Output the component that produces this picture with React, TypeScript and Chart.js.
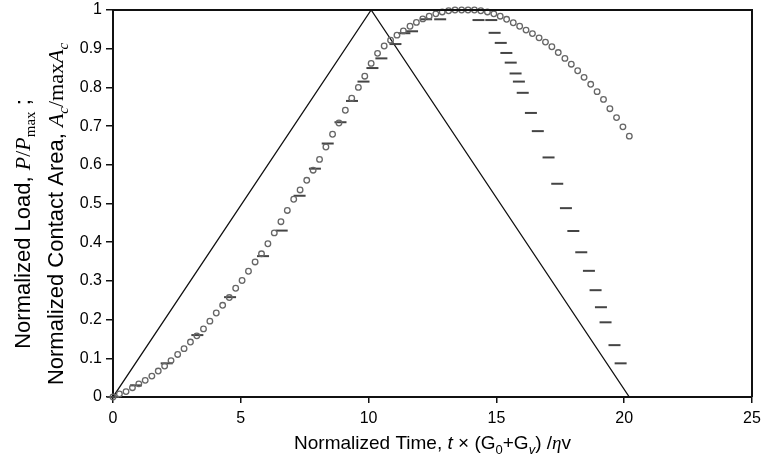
import React, { useEffect, useRef } from "react";
import { Chart, registerables } from "chart.js";

Chart.register(...registerables);

// Triangle load history (normalized load P/Pmax)
const loadTime = [0, 10.1, 20.2];
const loadValue = [0, 1, 0];

// Circles: normalized contact area (series 1)
const circleTime = [
  0, 0.25, 0.51, 0.76, 1.01, 1.26, 1.52, 1.77, 2.02, 2.27, 2.53, 2.78, 3.03, 3.28, 3.54, 3.79,
  4.04, 4.29, 4.55, 4.8, 5.05, 5.3, 5.56, 5.81, 6.06, 6.31, 6.57, 6.82, 7.07, 7.32, 7.58, 7.83,
  8.08, 8.33, 8.59, 8.84, 9.09, 9.34, 9.6, 9.85, 10.1, 10.35, 10.61, 10.86, 11.11, 11.36, 11.62,
  11.87, 12.12, 12.37, 12.63, 12.88, 13.13, 13.38, 13.64, 13.89, 14.14, 14.39, 14.65, 14.9, 15.15,
  15.4, 15.66, 15.91, 16.16, 16.41, 16.67, 16.92, 17.17, 17.42, 17.68, 17.93, 18.18, 18.43, 18.69,
  18.94, 19.19, 19.44, 19.7, 19.95, 20.2,
];
const circleValue = [
  0, 0.008, 0.014, 0.024, 0.034, 0.043, 0.054, 0.067, 0.08, 0.094, 0.11, 0.125, 0.142, 0.158, 0.176,
  0.196, 0.217, 0.237, 0.257, 0.281, 0.301, 0.325, 0.349, 0.37, 0.396, 0.424, 0.453, 0.482, 0.511,
  0.535, 0.56, 0.586, 0.614, 0.646, 0.679, 0.708, 0.741, 0.772, 0.8, 0.829, 0.862, 0.888, 0.907,
  0.922, 0.935, 0.946, 0.958, 0.968, 0.977, 0.984, 0.99, 0.995, 0.998, 1.0, 1.0, 1.0, 1.0, 0.998,
  0.995, 0.99, 0.984, 0.976, 0.967, 0.958, 0.948, 0.939, 0.928, 0.917, 0.905, 0.89, 0.875, 0.86,
  0.843, 0.826, 0.808, 0.789, 0.769, 0.745, 0.722, 0.698, 0.674,
];

// Dashes: normalized contact area (series 2)
const dashTime = [
  0, 0.9, 2.1, 3.3, 4.58, 5.87, 6.6, 7.3, 7.9, 8.4, 8.9, 9.35, 9.8, 10.15, 10.5, 11.05, 11.4, 11.7,
  12.25, 12.8, 14.3, 14.8, 14.93, 15.17, 15.39, 15.56, 15.75, 15.88, 16.03, 16.35, 16.62, 17.04,
  17.38, 17.72, 18.01, 18.32, 18.62, 18.88, 19.09, 19.27, 19.62, 19.86,
];
const dashValue = [
  0, 0.03, 0.087, 0.16, 0.258, 0.364, 0.43, 0.52, 0.59, 0.655, 0.71, 0.765, 0.815, 0.85, 0.875,
  0.912, 0.94, 0.945, 0.976, 0.976, 0.974, 0.974, 0.941, 0.915, 0.889, 0.864, 0.836, 0.815, 0.786,
  0.734, 0.687, 0.619, 0.551, 0.488, 0.429, 0.374, 0.326, 0.276, 0.232, 0.193, 0.134, 0.087,
];

const xTicks = [0, 5, 10, 15, 20, 25];
const yTicks = [0, 0.1, 0.2, 0.3, 0.4, 0.5, 0.6, 0.7, 0.8, 0.9, 1];

const SANS = '"Liberation Sans", Arial, sans-serif';
const SERIF = '"Liberation Serif", "Times New Roman", serif';

type Seg = { t: string; font: string; dy?: number };

const xTitle: Seg[] = [
  { t: "Normalized Time, ", font: `19px ${SANS}` },
  { t: "t", font: `italic 19px ${SANS}` },
  { t: " \u00d7 (G", font: `19px ${SANS}` },
  { t: "0", font: `13px ${SANS}`, dy: 5 },
  { t: "+G", font: `19px ${SANS}` },
  { t: "v", font: `italic 13px ${SANS}`, dy: 5 },
  { t: ") /", font: `19px ${SANS}` },
  { t: "\u03b7", font: `italic 19px ${SERIF}` },
  { t: "v", font: `19px ${SANS}` },
];

const yTitle1: Seg[] = [
  { t: "Normalized Load, ", font: `22px ${SANS}` },
  { t: "P", font: `italic 22px ${SERIF}` },
  { t: "/", font: `22px ${SERIF}` },
  { t: "P", font: `italic 22px ${SERIF}` },
  { t: "max", font: `15px ${SERIF}`, dy: 5 },
  { t: " ;", font: `22px ${SANS}` },
];

const yTitle2: Seg[] = [
  { t: "Normalized Contact Area, ", font: `22px ${SANS}` },
  { t: "A", font: `italic 22px ${SERIF}` },
  { t: "c", font: `italic 15px ${SERIF}`, dy: 5 },
  { t: "/max", font: `22px ${SERIF}` },
  { t: "A", font: `italic 22px ${SERIF}` },
  { t: "c", font: `italic 15px ${SERIF}`, dy: 5 },
];

function drawRich(ctx: CanvasRenderingContext2D, segs: Seg[], cx: number, baseY: number) {
  let total = 0;
  for (const s of segs) {
    ctx.font = s.font;
    total += ctx.measureText(s.t).width;
  }
  let x = cx - total / 2;
  ctx.textAlign = "left";
  ctx.textBaseline = "alphabetic";
  for (const s of segs) {
    ctx.font = s.font;
    ctx.fillText(s.t, x, baseY + (s.dy || 0));
    x += ctx.measureText(s.t).width;
  }
}

const decorPlugin = {
  id: "decor",
  afterDraw(chart: any) {
    const { ctx, chartArea: a } = chart;
    ctx.save();
    ctx.strokeStyle = "#111";
    ctx.lineWidth = 2;
    ctx.beginPath();
    ctx.moveTo(a.left, a.top);
    ctx.lineTo(a.right, a.top);
    ctx.lineTo(a.right, a.bottom);
    ctx.stroke();

    ctx.fillStyle = "#000";
    drawRich(ctx, xTitle, (a.left + a.right) / 2, 449);

    ctx.save();
    ctx.translate(30, 224);
    ctx.rotate(-Math.PI / 2);
    drawRich(ctx, yTitle1, 0, 0);
    ctx.restore();

    ctx.save();
    ctx.translate(63, 214);
    ctx.rotate(-Math.PI / 2);
    drawRich(ctx, yTitle2, 0, 0);
    ctx.restore();

    ctx.restore();
  },
};

export default function App() {
  const ref = useRef<HTMLCanvasElement | null>(null);

  useEffect(() => {
    if (!ref.current) return;
    const pts = (xs: number[], ys: number[]) => xs.map((x, i) => ({ x, y: ys[i] }));
    const chart = new Chart(ref.current, {
      type: "scatter",
      data: {
        datasets: [
          {
            label: "Load",
            data: pts(loadTime, loadValue),
            showLine: true,
            borderColor: "#111",
            borderWidth: 1.3,
            pointRadius: 0,
            order: 3,
          },
          {
            label: "Area A",
            data: pts(circleTime, circleValue),
            showLine: false,
            pointStyle: "circle",
            pointRadius: 2.8,
            borderWidth: 1.3,
            borderColor: "#666",
            backgroundColor: "rgba(255,255,255,0)",
            clip: false,
            order: 1,
          },
          {
            label: "Area B",
            data: pts(dashTime, dashValue),
            showLine: false,
            pointStyle: "line",
            pointRadius: 6,
            borderWidth: 2,
            borderColor: "#444",
            clip: false,
            order: 2,
          },
        ] as any,
      },
      options: {
        animation: false,
        responsive: false,
        devicePixelRatio: 1,
        layout: { padding: { left: 0, top: 10, right: 12, bottom: 0 } },
        plugins: { legend: { display: false }, tooltip: { enabled: false } },
        scales: {
          x: {
            type: "linear",
            min: 0,
            max: 25,
            afterFit: (s: any) => {
              s.height = 69;
              s.paddingLeft = 0;
              s.paddingRight = 0;
            },
            afterBuildTicks: (s: any) => {
              s.ticks = xTicks.map((v) => ({ value: v }));
            },
            ticks: {
              color: "#000",
              font: { family: SANS, size: 16 },
              padding: 6,
              maxRotation: 0,
            },
            grid: {
              drawOnChartArea: false,
              drawTicks: true,
              tickLength: 6,
              color: "#111",
              lineWidth: 1.5,
            },
            border: { display: true, color: "#111", width: 2 },
          },
          y: {
            type: "linear",
            min: 0,
            max: 1,
            afterFit: (s: any) => {
              s.width = 113;
              s.paddingTop = 0;
              s.paddingBottom = 0;
            },
            afterBuildTicks: (s: any) => {
              s.ticks = yTicks.map((v) => ({ value: v }));
            },
            ticks: {
              color: "#000",
              font: { family: SANS, size: 16 },
              padding: 4,
              callback: (v: any) => String(Math.round(Number(v) * 10) / 10),
            },
            grid: {
              drawOnChartArea: false,
              drawTicks: true,
              tickLength: 7,
              color: "#111",
              lineWidth: 1.5,
            },
            border: { display: true, color: "#111", width: 2 },
          },
        },
      } as any,
      plugins: [decorPlugin],
    });
    return () => chart.destroy();
  }, []);

  return (
    <div style={{ position: "fixed", left: 0, top: 0, width: 764, height: 466, background: "#fff" }}>
      <canvas ref={ref} width={764} height={466} style={{ width: 764, height: 466, display: "block" }} />
    </div>
  );
}
